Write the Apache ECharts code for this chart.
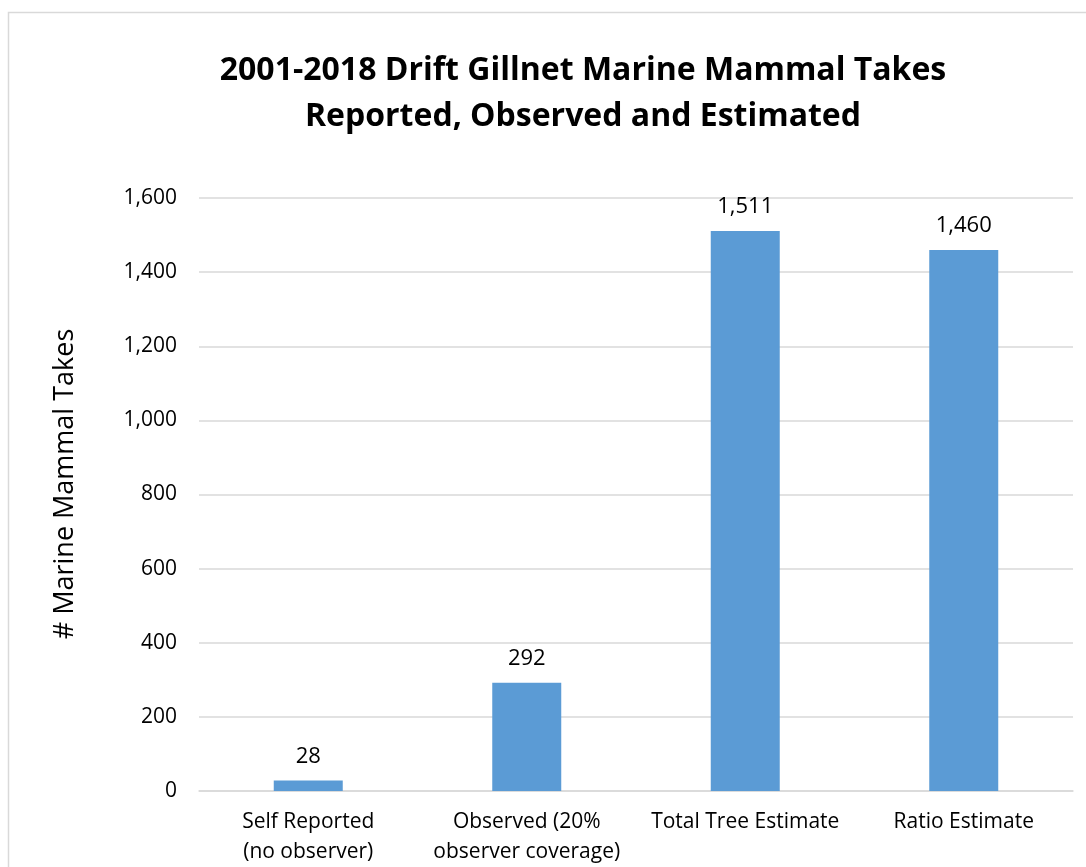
<!DOCTYPE html>
<html>
<head>
<meta charset="utf-8">
<script src="https://cdn.jsdelivr.net/npm/echarts@6/dist/echarts.min.js"></script>
<style>
  html, body { margin: 0; padding: 0; background: #fff; }
  #chart { width: 1086px; height: 867px; }
</style>
</head>
<body>
<div id="chart"></div>
<script>
const categories = [
  "Self Reported\n(no observer)",
  "Observed (20%\nobserver coverage)",
  "Total Tree Estimate",
  "Ratio Estimate"
];
const takes = [28, 292, 1511, 1460];
const titleLines = [
  "2001-2018 Drift Gillnet Marine Mammal Takes",
  "Reported, Observed and Estimated"
];
const yAxisTitle = "# Marine Mammal Takes";

const font = "'Open Sans', 'Liberation Sans', sans-serif";
const fmt = v => v.toLocaleString("en-US");

const chart = echarts.init(document.getElementById("chart"));
chart.setOption({
  backgroundColor: "#fff",
  animation: false,
  graphic: [
    {
      type: "rect",
      shape: { x: 8.5, y: 12.5, width: 1100, height: 900 },
      style: { fill: "none", stroke: "#d9d9d9", lineWidth: 1.5 }
    },
    {
      // y axis title, rotated
      type: "text",
      x: 65,
      y: 484,
      rotation: Math.PI / 2,
      style: {
        text: yAxisTitle,
        fontFamily: font,
        fontSize: 27,
        fill: "#000",
        align: "center",
        verticalAlign: "middle"
      }
    }
  ],
  title: {
    text: titleLines.join("\n"),
    left: 578,
    top: 43,
    textAlign: "center",
    textStyle: {
      fontFamily: font,
      fontWeight: "bold",
      fontSize: 32,
      lineHeight: 46,
      color: "#000"
    }
  },
  grid: { left: 199, right: 13, top: 198, bottom: 71, containLabel: false },
  xAxis: {
    type: "category",
    data: categories,
    axisLine: { lineStyle: { color: "#d9d9d9", width: 1.5 } },
    axisTick: { show: false },
    axisLabel: {
      fontFamily: font,
      fontSize: 21,
      color: "#000",
      lineHeight: 30,
      margin: 16,
      interval: 0
    }
  },
  yAxis: {
    type: "value",
    min: 0,
    max: 1600,
    interval: 200,
    axisLine: { show: false },
    axisTick: { show: false },
    splitLine: { lineStyle: { color: "#d9d9d9", width: 1.5 } },
    axisLabel: {
      fontFamily: font,
      fontSize: 21,
      color: "#000",
      margin: 22,
      formatter: fmt
    }
  },
  series: [
    {
      type: "bar",
      data: takes,
      barWidth: 69,
      itemStyle: { color: "#5b9bd5" },
      label: {
        show: true,
        position: "top",
        distance: 13,
        fontFamily: font,
        fontSize: 22,
        color: "#000",
        formatter: p => fmt(p.value)
      }
    }
  ]
});
</script>
</body>
</html>
